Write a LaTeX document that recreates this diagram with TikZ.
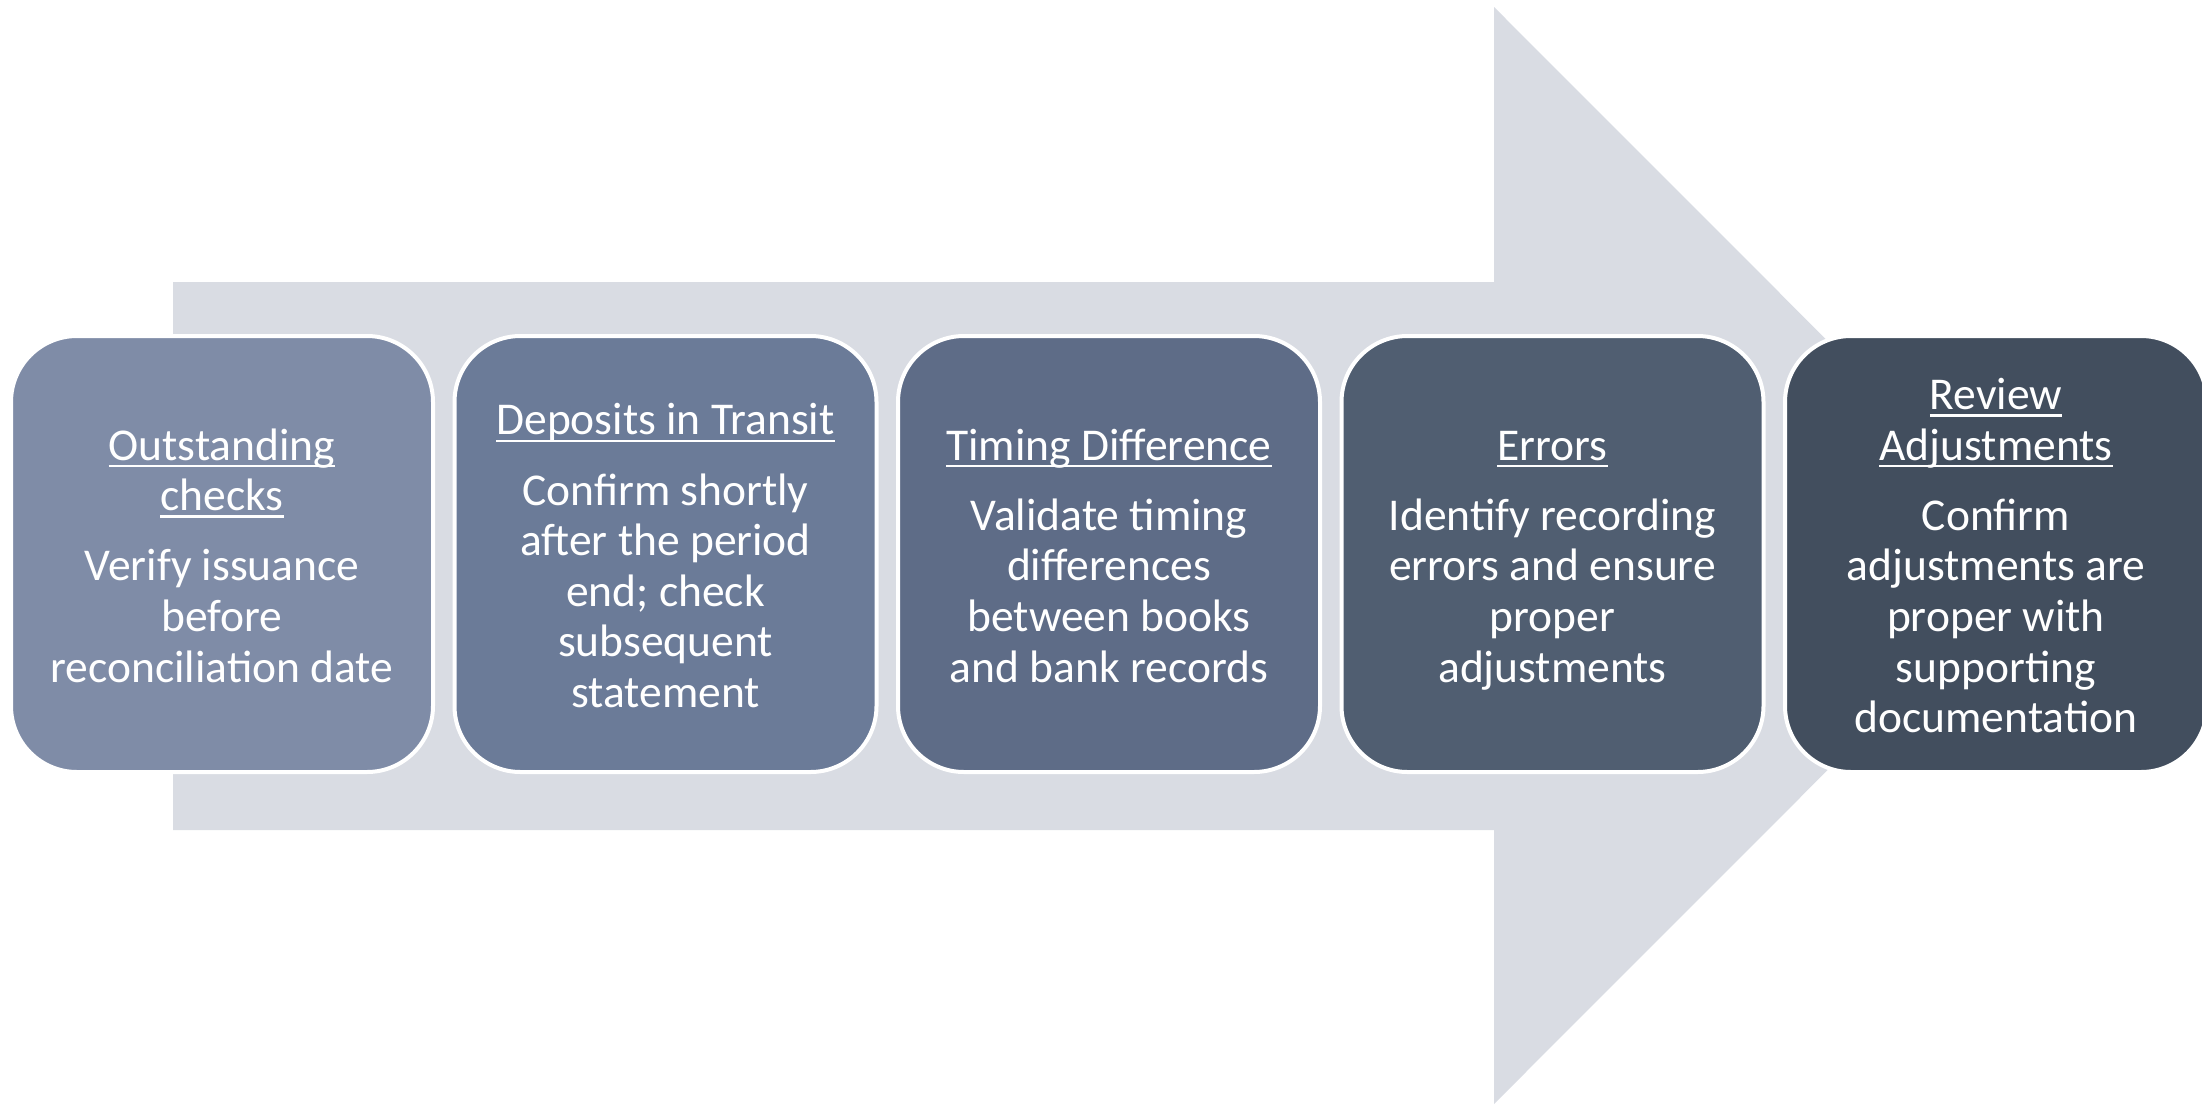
\documentclass[tikz,border=0pt]{standalone}
\usepackage{fontspec}
\setmainfont{Carlito}
\definecolor{arrowgray}{RGB}{217,220,227}
\definecolor{stepA}{RGB}{127,140,167}
\definecolor{stepB}{RGB}{107,123,152}
\definecolor{stepC}{RGB}{94,108,135}
\definecolor{stepD}{RGB}{80,94,113}
\definecolor{stepE}{RGB}{66,78,94}
% underline at a fixed depth below the baseline
\newcommand\ulword[1]{\setbox0\hbox{#1}\rlap{\rule[-0.16em]{\wd0}{0.055em}}\box0}
% first- and last-line struts so every text block has the same line box
\newcommand\topstrut{\rule{0pt}{21.2pt}}
\newcommand\botstrut{\rule[-4.1pt]{0pt}{4.1pt}}
\tikzset{
  stepbox/.style={draw=white, line width=2pt, rounded corners=33pt,
    minimum width=211pt, minimum height=218pt, text=white, align=center,
    font=\fontsize{22.75}{25.3}\selectfont, inner sep=0pt},
}
\begin{document}
\begin{tikzpicture}[x=0.5pt,y=-0.5pt]
\useasboundingbox (0,0) rectangle (2202,1104);
\clip (0,0) rectangle (2202,1104);
% background arrow
\fill[arrowgray] (173,282) -- (1494,282) -- (1494,7) -- (2042,555.5)
  -- (1494,1104) -- (1494,830) -- (173,830) -- cycle;
% steps
\node[stepbox, fill=stepA] (s1) at (222,554)
  {\topstrut\ulword{Outstanding}\\\ulword{checks}\\[9.8pt]Verify issuance\\before\\reconciliation date\botstrut};
\node[stepbox, fill=stepB] (s2) at (665.5,554)
  {\topstrut\ulword{Deposits in Transit}\\[9.8pt]Confirm shortly\\after the period\\end; check\\subsequent\\statement\botstrut};
\node[stepbox, fill=stepC] (s3) at (1109,554)
  {\topstrut\ulword{Timing Difference}\\[9.8pt]Validate timing\\differences\\between books\\and bank records\botstrut};
\node[stepbox, fill=stepD] (s4) at (1552.5,554)
  {\topstrut\ulword{Errors}\\[9.8pt]Identify recording\\errors and ensure\\proper\\adjustments\botstrut};
\node[stepbox, fill=stepE] (s5) at (1996,554)
  {\topstrut\ulword{Review}\\\ulword{Adjustments}\\[9.8pt]Confirm\\adjustments are\\proper with\\supporting\\documentation\botstrut};
\end{tikzpicture}
\end{document}
